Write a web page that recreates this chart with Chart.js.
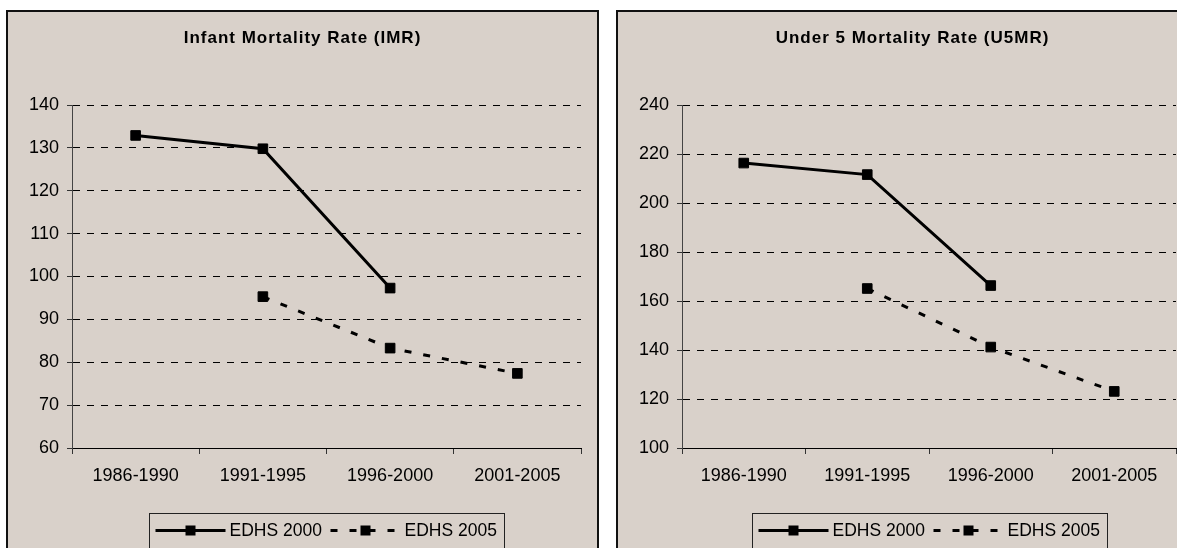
<!DOCTYPE html>
<html>
<head>
<meta charset="utf-8">
<title>IMR / U5MR</title>
<script src="https://cdn.jsdelivr.net/npm/chart.js@4/dist/chart.umd.min.js"></script>
<style>
  html, body { margin: 0; padding: 0; background: #fff; overflow: hidden; }
  .panel {
    position: absolute;
    top: 10px;
    width: 589px;
    height: 560px;
    border: 2px solid #111;
    background: #d9d1ca;
  }
  #p1 { left: 6px; }
  #p2 { left: 616px; }
  canvas { display: block; }
</style>
</head>
<body>
<div class="panel" id="p1"><canvas id="imrChart" width="589" height="560"></canvas></div>
<div class="panel" id="p2"><canvas id="u5mrChart" width="589" height="560"></canvas></div>
<script>
// periods on the x axis
const periods = ['1986-1990', '1991-1995', '1996-2000', '2001-2005'];
const seriesNames = ['EDHS 2000', 'EDHS 2005'];

// infant mortality (per 1000)
const imr2000 = [132.9, 129.8, 97.3, null];
const imr2005 = [null, 95.3, 83.3, 77.4];

// under five mortality (per 1000)
const u5mr2000 = [216.3, 211.6, 166.3, null];
const u5mr2005 = [null, 165.1, 141.2, 123.1];

const FONT = 'Arial, "Liberation Sans", sans-serif';

// titre et légende dessinés à la main (style Excel)
const panelDeco = {
    id: 'panelDeco',
    afterDraw(chart, args, opts) {
        const ctx = chart.ctx;
        const area = chart.chartArea;

        // titre
        ctx.save();
        ctx.font = 'bold 17px ' + FONT;
        ctx.fillStyle = '#000';
        ctx.textAlign = 'center';
        ctx.textBaseline = 'middle';
        if ('letterSpacing' in ctx) ctx.letterSpacing = '1px';
        ctx.fillText(opts.title, chart.width / 2, 26);
        ctx.restore();

        // légende
        const boxW = 355;
        const boxX = Math.round((area.left + area.right) / 2 - boxW / 2) + 0.5;
        const boxY = Math.round(area.bottom + 65) + 0.5;
        const midY = boxY + 17;
        ctx.save();
        ctx.strokeStyle = '#222';
        ctx.lineWidth = 1;
        ctx.strokeRect(boxX, boxY, boxW, 80);

        chart.data.datasets.forEach((ds, i) => {
            const x0 = boxX + 6 + i * 175;
            const x1 = x0 + 70;
            ctx.beginPath();
            ctx.setLineDash(ds.borderDash || []);
            ctx.lineWidth = ds.borderWidth;
            ctx.strokeStyle = ds.borderColor;
            ctx.moveTo(x0, midY);
            ctx.lineTo(x1, midY);
            ctx.stroke();
            ctx.setLineDash([]);
            const s = 10;
            ctx.fillStyle = ds.pointBackgroundColor;
            ctx.fillRect((x0 + x1) / 2 - s / 2, midY - s / 2, s, s);

            ctx.font = '17.5px ' + FONT;
            ctx.fillStyle = '#000';
            ctx.textAlign = 'left';
            ctx.textBaseline = 'middle';
            ctx.fillText(ds.label, x1 + 4, midY + 1);
        });
        ctx.restore();
    }
};

function makeChart(canvasId, title, s2000, s2005, yMin, yMax, yStep, rightPad) {
    const ctx = document.getElementById(canvasId).getContext('2d');
    const common = {
        borderColor: '#000',
        borderWidth: 3,
        pointStyle: 'rect',
        pointRadius: 6.8,
        pointBackgroundColor: '#000',
        pointBorderColor: '#000',
        pointBorderWidth: 1,
        tension: 0,
        fill: false,
        spanGaps: false,
    };
    return new Chart(ctx, {
        type: 'line',
        data: {
            labels: periods,
            datasets: [
                Object.assign({ label: seriesNames[0], data: s2000 }, common),
                Object.assign({ label: seriesNames[1], data: s2005, borderDash: [7, 12] }, common),
            ],
        },
        options: {
            responsive: false,
            animation: false,
            events: [],
            layout: {
                padding: { top: 93, left: 0, right: rightPad, bottom: 84 },
            },
            plugins: {
                legend: { display: false },
                title: { display: false },
                tooltip: { enabled: false },
                panelDeco: { title: title },
            },
            scales: {
                x: {
                    offset: true,
                    afterFit: (scale) => { scale.height = 40; },
                    grid: {
                        offset: true,
                        drawOnChartArea: false,
                        drawTicks: true,
                        tickLength: 6,
                        color: '#000',
                        tickColor: '#333',
                        tickBorderDash: [],
                    },
                    border: { color: '#000', width: 1 },
                    ticks: {
                        color: '#000',
                        font: { family: FONT, size: 18 },
                        padding: 11,
                        maxRotation: 0,
                        autoSkip: false,
                    },
                },
                y: {
                    min: yMin,
                    max: yMax,
                    afterFit: (scale) => { scale.width = 64; },
                    grid: {
                        color: '#000',
                        lineWidth: 1,
                        drawTicks: true,
                        tickLength: 5,
                        tickColor: '#333',
                        tickBorderDash: [],
                    },
                    border: { color: '#444', width: 1, dash: [7, 7] },
                    ticks: {
                        stepSize: yStep,
                        color: '#000',
                        font: { family: FONT, size: 18 },
                        padding: 8,
                    },
                },
            },
        },
        plugins: [panelDeco],
    });
}

makeChart('imrChart', 'Infant Mortality Rate (IMR)', imr2000, imr2005, 60, 140, 10, 16);
makeChart('u5mrChart', 'Under 5 Mortality Rate (U5MR)', u5mr2000, u5mr2005, 100, 240, 20, 31);
</script>
</body>
</html>
